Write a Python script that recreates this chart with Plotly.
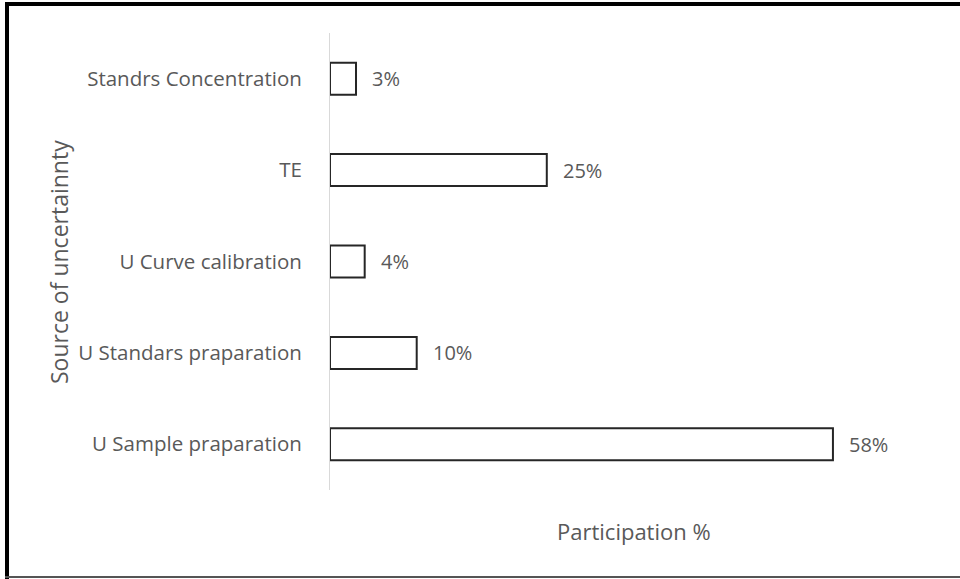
import plotly.graph_objects as go

categories = ["U Sample praparation", "U Standars praparation", "U Curve calibration", "TE", "Standrs Concentration"]
values = [58, 10, 4, 25, 3]
labels = ["58%", "10%", "4%", "25%", "3%"]
x_title = "Participation %"
y_title = "Source of uncertainnty"

W, H = 960, 579
FONT = "Open Sans"
GRAY = "#595959"

fig = go.Figure()
fig.add_trace(go.Bar(
    y=categories, x=values, orientation="h",
    marker=dict(color="white", line=dict(color="#262626", width=2)),
    hoverinfo="skip",
))

for c, v, t in zip(categories, values, labels):
    fig.add_annotation(x=v, y=c, text=t, showarrow=False, xanchor="left", xshift=14,
                       font=dict(family=FONT, size=20, color=GRAY))

x0, x1 = 330 / W, 937 / W
y0, y1 = 1 - 490 / H, 1 - 33 / H

fig.update_layout(
    width=W, height=H,
    margin=dict(l=0, r=0, t=0, b=0),
    paper_bgcolor="white", plot_bgcolor="white",
    bargap=0.65,
    showlegend=False,
    xaxis=dict(domain=[x0, x1], range=[0, 70], showticklabels=False, showgrid=False,
               zeroline=False, showline=False, ticks="", automargin=False),
    yaxis=dict(domain=[y0, y1], showgrid=False, zeroline=False, showline=True,
               linecolor="#d9d9d9", linewidth=1, ticks="", automargin=False,
               ticklabelstandoff=23,
               tickfont=dict(family=FONT, size=20.5, color=GRAY)),
)

fig.add_annotation(xref="paper", yref="paper", x=634 / W, y=1 - 531 / H, text=x_title,
                   showarrow=False, xanchor="center", yanchor="middle",
                   font=dict(family=FONT, size=22, color=GRAY))
fig.add_annotation(xref="paper", yref="paper", x=59 / W, y=1 - 262 / H, text=y_title, textangle=-90,
                   showarrow=False, xanchor="center", yanchor="middle",
                   font=dict(family=FONT, size=23, color=GRAY))

# frame around the figure
fig.add_shape(type="line", xref="paper", yref="paper", x0=7 / W, x1=7 / W, y0=0, y1=1 - 2 / H,
              line=dict(color="black", width=4))
fig.add_shape(type="line", xref="paper", yref="paper", x0=5 / W, x1=1, y0=1 - 4 / H, y1=1 - 4 / H,
              line=dict(color="black", width=4))
fig.add_shape(type="line", xref="paper", yref="paper", x0=5 / W, x1=1, y0=1 - 577 / H, y1=1 - 577 / H,
              line=dict(color="#555555", width=2))

fig.write_html("out.html")
